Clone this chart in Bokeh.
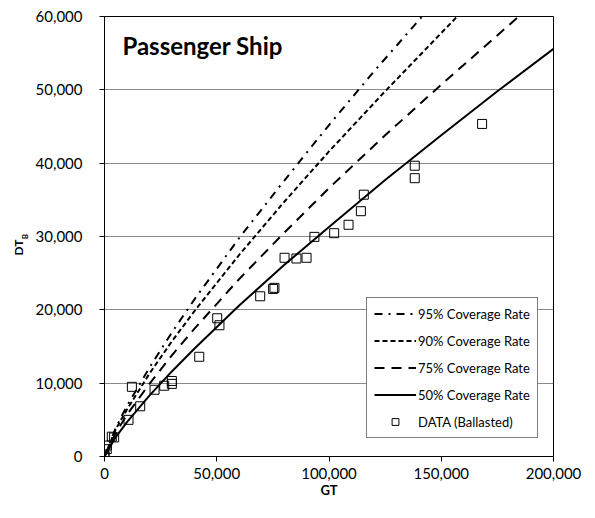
import math
from bokeh.plotting import figure
from bokeh.models import Range1d, FixedTicker, NumeralTickFormatter, Label, LinearAxis
from bokeh.embed import file_html
from bokeh.resources import INLINE

# ---- data ----
data_gt = [0, 0, 1000, 1000, 3250, 4300, 10700, 15900, 12200, 22300, 26600, 30000, 30000,
           42200, 50200, 51200, 69350, 75100, 75700, 80200, 85500, 90000, 93500, 102300,
           108700, 114200, 115500, 138200, 138200, 168200]
data_dt = [0, 250, 1000, 1500, 2700, 2600, 5000, 6850, 9500, 9100, 9650, 9900, 10300,
           13600, 18850, 17900, 21850, 22850, 23000, 27100, 27000, 27100, 29950, 30450,
           31600, 33450, 35700, 37950, 39650, 45350]

c95_gt = [0, 5000, 10000, 20000, 30000, 40000, 60000, 80000, 100000, 120000, 141500]
c95_dt = [0, 3900, 6900, 12100, 16900, 21400, 29800, 37600, 45200, 52500, 60000]
c90_gt = [0, 5000, 10000, 20000, 30000, 40000, 60000, 80000, 100000, 125000, 157100]
c90_dt = [0, 3700, 6400, 11300, 15700, 19800, 27500, 34700, 41600, 49800, 60000]
c75_gt = [0, 5000, 10000, 20000, 30000, 40000, 60000, 80000, 100000, 125000, 150000, 184500]
c75_dt = [0, 3200, 5700, 9900, 13800, 17400, 24200, 30500, 36600, 43800, 50700, 60000]
c50_gt = [0, 5000, 10000, 20000, 30000, 40000, 60000, 80000, 100000, 125000, 150000, 175000, 200000]
c50_dt = [0, 2650, 4700, 8300, 11600, 14700, 20600, 26100, 31300, 37700, 43800, 49800, 55600]

x_ticks = [0, 50000, 100000, 150000, 200000]
y_ticks = [0, 10000, 20000, 30000, 40000, 50000, 60000]

# y-axis title "DT" with subscript "B" (vertical positions along the axis)
YLAB_MAIN = "DT"
YLAB_SUB = "B"
YLAB_MAIN_POS = 28500
YLAB_SUB_POS = 30000

FONT = "Lato"
W, H = 587, 510

p = figure(width=W, height=H, output_backend="svg", toolbar_location=None,
           x_range=Range1d(0, 200000), y_range=Range1d(0, 60000),
           min_border_left=104, min_border_right=W - 553, min_border_top=16,
           min_border_bottom=H - 456)
p.background_fill_color = "white"
p.border_fill_color = "white"
p.outline_line_color = "black"
p.outline_line_width = 1

p.xgrid.grid_line_color = None
p.ygrid.grid_line_color = "#8a8a8a"
p.ygrid.grid_line_width = 1

for ax in (p.xaxis[0], p.yaxis[0]):
    ax.axis_line_color = "black"
    ax.axis_line_width = 1
    ax.major_tick_line_color = "black"
    ax.major_tick_out = 5
    ax.major_tick_in = 0
    ax.minor_tick_line_color = None
    ax.major_label_text_font = FONT
    ax.major_label_text_font_size = "15px"
    ax.major_label_text_color = "black"
    ax.formatter = NumeralTickFormatter(format="0,0")

p.xaxis.ticker = FixedTicker(ticks=x_ticks)
p.yaxis.ticker = FixedTicker(ticks=y_ticks)
p.xaxis.major_label_standoff = 6
p.yaxis.major_label_standoff = 17
p.xaxis.axis_label = "GT"
p.xaxis.axis_label_text_font = FONT
p.xaxis.axis_label_text_font_size = "13px"
p.xaxis.axis_label_text_font_style = "bold"
p.xaxis.axis_label_text_color = "black"
p.xaxis.axis_label_standoff = 0


def label_axis(pos, text, size, standoff):
    ax = LinearAxis(ticker=FixedTicker(ticks=[pos]), major_label_overrides={pos: text})
    ax.axis_line_color = None
    ax.major_tick_line_color = None
    ax.minor_tick_line_color = None
    ax.major_tick_out = 0
    ax.major_tick_in = 0
    ax.major_label_orientation = "vertical"
    ax.major_label_standoff = standoff
    ax.major_label_text_font = FONT
    ax.major_label_text_font_size = size
    ax.major_label_text_font_style = "bold"
    ax.major_label_text_color = "black"
    return ax


p.add_layout(label_axis(YLAB_SUB_POS, YLAB_SUB, "8px", 3), "left")
p.add_layout(label_axis(YLAB_MAIN_POS, YLAB_MAIN, "12px", -9), "left")

p.line(c95_gt, c95_dt, line_color="black", line_width=2, line_dash="8 6 2 6",
       legend_label="95% Coverage Rate")
p.line(c90_gt, c90_dt, line_color="black", line_width=2, line_dash="5 3",
       legend_label="90% Coverage Rate")
p.line(c75_gt, c75_dt, line_color="black", line_width=2, line_dash="10 7",
       legend_label="75% Coverage Rate")
p.line(c50_gt, c50_dt, line_color="black", line_width=2,
       legend_label="50% Coverage Rate")
p.scatter(data_gt, data_dt, marker="square", size=9, line_color="black", line_width=1,
          fill_color="white", fill_alpha=0, legend_label="DATA (Ballasted)")

leg = p.legend[0]
leg.location = (262, 18)
leg.label_text_font = FONT
leg.label_text_font_size = "13px"
leg.label_text_color = "black"
leg.glyph_width = 42
leg.glyph_height = 17
leg.label_height = 17
leg.label_standoff = 2
leg.spacing = 10
leg.padding = 7
leg.margin = 0
leg.border_line_color = "black"
leg.border_line_width = 1
leg.background_fill_color = "white"
leg.background_fill_alpha = 1

p.add_layout(Label(x=8000, y=56000, text="Passenger Ship", text_font=FONT,
                   text_font_size="24px", text_font_style="bold", text_color="black",
                   text_align="left", text_baseline="alphabetic"))

open("out.html", "w").write(file_html(p, INLINE))
